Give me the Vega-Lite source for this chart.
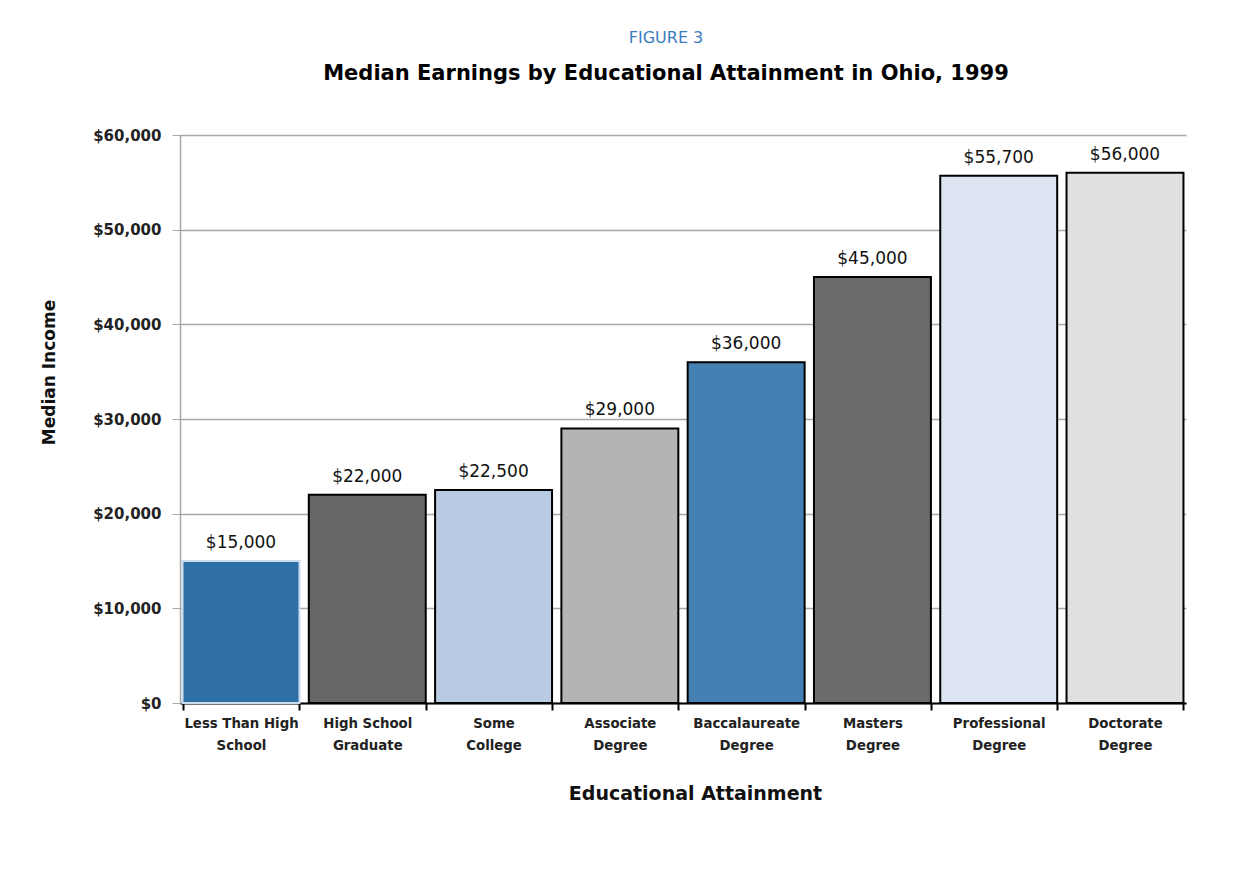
{
  "$schema": "https://vega.github.io/schema/vega-lite/v6.json",
  "autosize": {"type": "none"},
  "padding": {"left": 180, "top": 135, "right": 52, "bottom": 177},
  "width": 1006,
  "height": 568,
  "background": "white",
  "config": {
    "view": {"stroke": null},
    "font": "DejaVu Sans"
  },
  "title": {
    "text": "FIGURE 3\u2003\u2003\u2003",
    "subtitle": "Median Earnings by Educational Attainment in Ohio, 1999",
    "color": "#3b7dbf",
    "fontSize": 16,
    "fontWeight": "normal",
    "font": "DejaVu Sans",
    "subtitleColor": "#000000",
    "subtitleFontSize": 21,
    "subtitleFontWeight": "bold",
    "subtitleFont": "DejaVu Sans",
    "subtitlePadding": 17,
    "anchor": "middle",
    "offset": 44,
    "dx": -17
  },
  "data": {
    "values": [
      {"level": "Less Than High School", "income": 15000},
      {"level": "High School Graduate", "income": 22000},
      {"level": "Some College", "income": 22500},
      {"level": "Associate Degree", "income": 29000},
      {"level": "Baccalaureate Degree", "income": 36000},
      {"level": "Masters Degree", "income": 45000},
      {"level": "Professional Degree", "income": 55700},
      {"level": "Doctorate Degree", "income": 56000}
    ]
  },
  "encoding": {
    "x": {
      "field": "level",
      "type": "nominal",
      "sort": null,
      "scale": {"paddingInner": 0.074, "paddingOuter": 0.02},
      "axis": {
        "title": "Educational Attainment",
        "titleFontSize": 19,
        "titleFontWeight": "bold",
        "titleColor": "#111111",
        "titlePadding": 33,
        "titleX": 515,
        "labelAngle": 0,
        "labelFontSize": 13.3,
        "labelFontWeight": "bold",
        "labelColor": "#222222",
        "labelLineHeight": 22,
        "labelPadding": 6,
        "labelExpr": "{'Less Than High School':['Less Than High','School'],'High School Graduate':['High School','Graduate'],'Some College':['Some','College'],'Associate Degree':['Associate','Degree'],'Baccalaureate Degree':['Baccalaureate','Degree'],'Masters Degree':['Masters','Degree'],'Professional Degree':['Professional','Degree'],'Doctorate Degree':['Doctorate','Degree']}[datum.label]",
        "domainColor": "#000000",
        "domainWidth": 2,
        "tickColor": "#000000",
        "tickWidth": 2,
        "tickSize": 7,
        "tickBand": "extent"
      }
    },
    "y": {
      "field": "income",
      "type": "quantitative",
      "scale": {"domain": [0, 60000], "nice": false},
      "axis": {
        "title": "Median Income",
        "titleFontSize": 17,
        "titleFontWeight": "bold",
        "titleColor": "#111111",
        "titlePadding": 34,
        "titleY": 237,
        "values": [0, 10000, 20000, 30000, 40000, 50000, 60000],
        "format": "$,.0f",
        "labelFontSize": 15,
        "labelFontWeight": "bold",
        "labelColor": "#222222",
        "labelPadding": 11,
        "grid": true,
        "gridColor": "#a8a8a8",
        "gridWidth": 1.5,
        "domainColor": "#a8a8a8",
        "domainWidth": 1.5,
        "tickColor": "#a8a8a8",
        "tickSize": 8
      }
    }
  },
  "layer": [
    {
      "mark": {"type": "bar", "strokeWidth": 2},
      "encoding": {
        "color": {
          "field": "level",
          "type": "nominal",
          "legend": null,
          "scale": {
            "domain": ["Less Than High School", "High School Graduate", "Some College", "Associate Degree", "Baccalaureate Degree", "Masters Degree", "Professional Degree", "Doctorate Degree"],
            "range": ["#2e6fa6", "#666666", "#b9cbe3", "#b4b4b4", "#4580b3", "#6b6b6b", "#dde5f2", "#e0e0e0"]
          }
        },
        "stroke": {
          "field": "level",
          "type": "nominal",
          "legend": null,
          "scale": {
            "domain": ["Less Than High School", "High School Graduate", "Some College", "Associate Degree", "Baccalaureate Degree", "Masters Degree", "Professional Degree", "Doctorate Degree"],
            "range": ["#c9dcee", "#000000", "#000000", "#000000", "#000000", "#000000", "#000000", "#000000"]
          }
        }
      }
    },
    {
      "mark": {"type": "text", "baseline": "bottom", "dy": -9, "fontSize": 17, "color": "#111111", "font": "DejaVu Sans"},
      "encoding": {
        "text": {"field": "income", "type": "quantitative", "format": "$,.0f"}
      }
    }
  ]
}
